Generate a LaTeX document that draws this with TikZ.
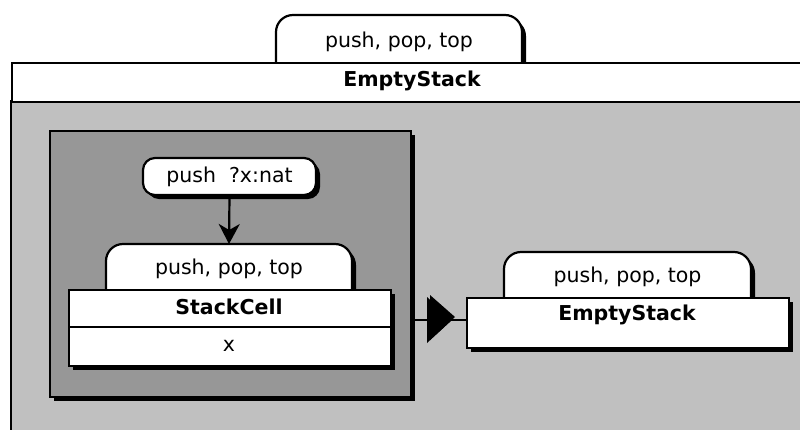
\documentclass[tikz,border=0pt]{standalone}
\usepackage{fontspec}
\setmainfont{DejaVu Sans}
\usetikzlibrary{shadows,arrows.meta}

\definecolor{paneGray}{RGB}{192,192,192}
\definecolor{innerGray}{RGB}{151,151,151}

\tikzset{
  shadowed/.style={drop shadow={shadow xshift=4pt, shadow yshift=-4pt, opacity=1, fill=black}},
  txt/.style={font=\fontsize{20.5}{24}\selectfont, inner sep=0pt},
  boldtxt/.style={font=\fontsize{20.5}{24}\selectfont\bfseries, inner sep=0pt},
  cellbox/.style={draw, fill=white, rectangle, inner sep=0pt, font=\fontsize{20.5}{24}\selectfont},
  tabshape/.style={draw, fill=white, rounded corners=17pt},
}

\begin{document}
\begin{tikzpicture}[x=1pt, y=-1pt, line width=2.2pt]
\useasboundingbox (0,0) rectangle (800,429);
\clip (0,0) rectangle (800,429);

% operations tab above the outer state
\draw[tabshape, shadowed] (276,62) |- (522,15) -- (522,62);
\node[txt] (opsTop) at (399,42) {push, pop, top};

% outer state EmptyStack
\draw[fill=paneGray] (11,101) rectangle (830,470);
\node[cellbox, minimum width=819pt, minimum height=39pt, anchor=north west] (outerTitle) at (11,62) {};
\node[boldtxt] (outerName) at (412,81) {EmptyStack};

% inner region
\node[draw, fill=innerGray, shadowed, rectangle, minimum width=361pt, minimum height=266pt, anchor=north west] (inner) at (49,130) {};

% entry event
\node[draw, fill=white, shadowed, rounded corners=12pt, minimum width=173pt, minimum height=37pt, inner sep=0pt, font=\fontsize{20.5}{24}\selectfont] (entry) at (229.5,176.5) {push\ \ ?x:nat};

% StackCell state
\draw[tabshape, shadowed] (106,289) |- (352,244) -- (352,289);
\node[txt] (opsCell) at (229,269) {push, pop, top};
\node[cellbox, shadowed, minimum width=322pt, minimum height=76pt, anchor=north west] (cell) at (68,289) {};
\draw (cell.west |- 0,327) -- (cell.east |- 0,327);
\node[boldtxt] (cellName) at (229,307) {StackCell};
\node[txt] (cellVar) at (229,346) {x};

\draw[-{Stealth[length=20pt, width=21pt, inset=6pt]}] (entry.south) -- (opsCell.north |- 0,244);

% right EmptyStack state
\draw[tabshape, shadowed] (504,297) |- (751,252) -- (751,297);
\node[txt] (opsRight) at (627.5,277) {push, pop, top};
\node[cellbox, shadowed, minimum width=322pt, minimum height=50pt, anchor=north west] (right) at (466,297) {};
\node[boldtxt] (rightName) at (627,315) {EmptyStack};

% transition with large triangular head
\coordinate (tip) at (452,320);
\draw (inner.east |- tip) -- (right.west |- tip);
\fill[black] ([xshift=3pt, yshift=3pt]tip) -- ++(-25,-22) -- ++(0,45) -- cycle;
\fill[black] (tip) -- ++(-25,-23) -- ++(0,46) -- cycle;
\end{tikzpicture}
\end{document}
